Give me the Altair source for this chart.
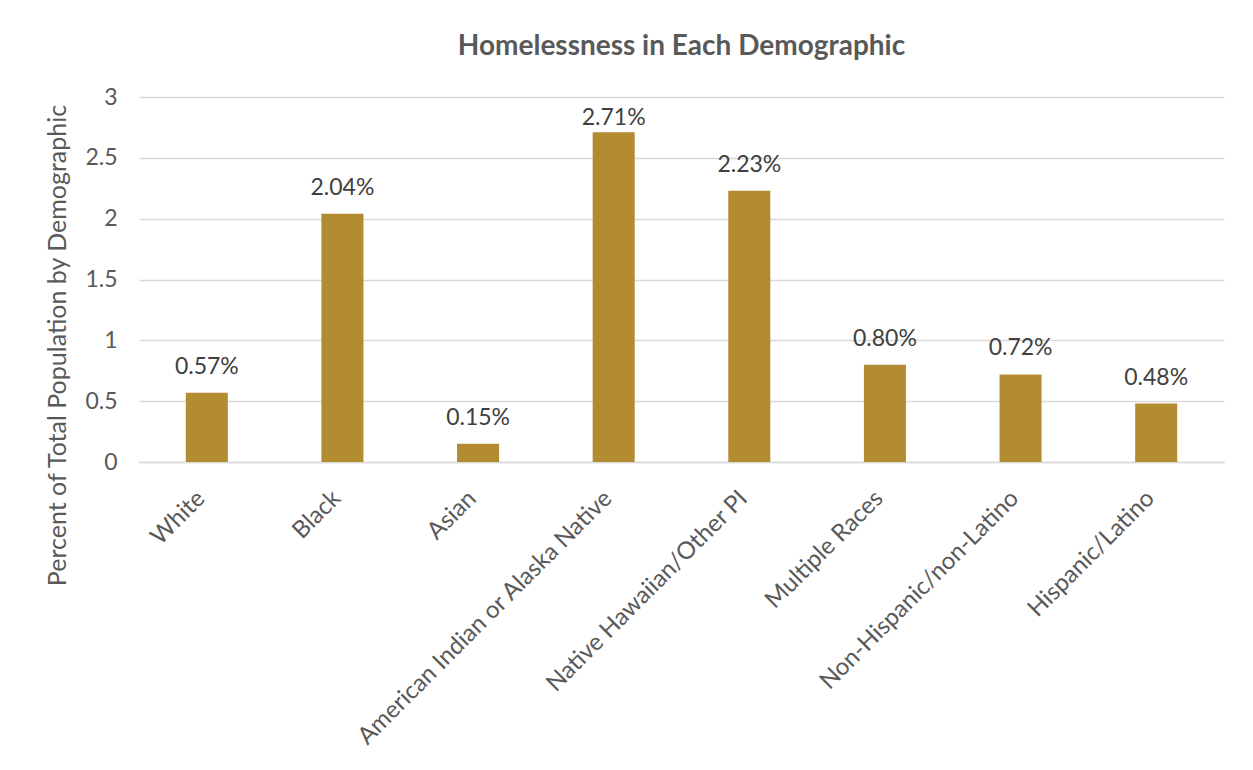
import altair as alt
import pandas as pd

categories = ["White", "Black", "Asian", "American Indian or Alaska Native",
              "Native Hawaiian/Other PI", "Multiple Races",
              "Non-Hispanic/non-Latino", "Hispanic/Latino"]
values = [0.57, 2.04, 0.15, 2.71, 2.23, 0.80, 0.72, 0.48]
labels = ["0.57%", "2.04%", "0.15%", "2.71%", "2.23%", "0.80%", "0.72%", "0.48%"]

df = pd.DataFrame({"cat": categories, "val": values, "lab": labels})

FONT = "Lato"
GREY = "#595959"

x = alt.X("cat:N", sort=categories, title=None,
          scale=alt.Scale(paddingInner=0.69, paddingOuter=0.345),
          axis=alt.Axis(labelAngle=-45, labelFontSize=24, labelColor=GREY,
                        labelFont=FONT, ticks=False, domain=True,
                        domainColor="#D9D9D9", domainWidth=1.5,
                        labelPadding=24, labelOffset=-14, labelLimit=450))
y = alt.Y("val:Q", title="Percent of Total Population by Demographic",
          scale=alt.Scale(domain=[0, 3]),
          axis=alt.Axis(values=[0, 0.5, 1, 1.5, 2, 2.5, 3], format="~g",
                        labelFontSize=23, labelColor=GREY, labelFont=FONT,
                        titleFontSize=25, titleColor=GREY, titleFont=FONT,
                        titleFontWeight="normal", titlePadding=14, titleY=248,
                        ticks=False, domain=False, gridColor="#D9D9D9",
                        gridWidth=1.5, labelPadding=22))

bars = alt.Chart(df).mark_bar(color="#B38B31").encode(x=x, y=y)
# data labels sit above bars, but are kept inside the plot area (as Excel does)
text = alt.Chart(df).transform_calculate(
    ly="min(datum.val, 2.61)"
).mark_text(dy=-26, fontSize=23, color="#404040", font=FONT).encode(
    x=alt.X("cat:N", sort=categories), y="ly:Q", text="lab:N")

chart = (bars + text).properties(
    width=1085, height=365,
    title=alt.Title("Homelessness in Each Demographic", fontSize=28,
                    fontWeight="bold", color=GREY, font=FONT, offset=25),
    padding={"left": 37, "top": 25, "right": 20, "bottom": 5},
).configure_view(stroke=None)

chart.save("out.html", embed_options={"renderer": "svg", "actions": False})
